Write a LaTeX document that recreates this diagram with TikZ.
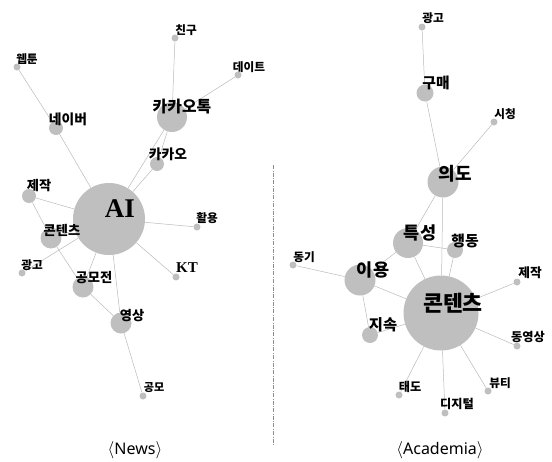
\documentclass[tikz,border=0pt]{standalone}
\usepackage{fontspec}
\newfontfamily\kr{Noto Sans CJK KR}[Scale=1.06]
\newfontfamily\tnr{Liberation Serif}
\newfontfamily\capf{Noto Sans}
\usetikzlibrary{backgrounds}
\begin{document}
\begin{tikzpicture}[x=1pt,y=-1pt,
  hub/.style={circle,fill=black!25,draw=none,inner sep=0pt,minimum size=#1},
  edge/.style={draw=black!27,line width=0.5pt},
  lbl/.style={inner sep=0pt,font=\kr\bfseries\fontsize{#1}{#1}\selectfont},
  slbl/.style={inner sep=0pt,font=\tnr\bfseries\fontsize{#1}{#1}\selectfont},
  captext/.style={inner sep=0pt,font=\capf\fontsize{16}{16}\selectfont},
  sepline/.style={draw=black!45,line width=0.5pt,dash pattern=on 4pt off 1.5pt on 0.6pt off 1.5pt}]
\useasboundingbox (0,0) rectangle (552,461);
% ---------------- News ----------------
\node[hub=72pt] (ai) at (109,219) {};
\node[hub=30pt] (kkt) at (172,117) {};
\node[hub=7pt] (chingu) at (175,38) {};
\node[hub=7pt] (date) at (238,75) {};
\node[hub=7pt] (webtoon) at (17,67) {};
\node[hub=14pt] (naver) at (56,128) {};
\node[hub=14pt] (kakao) at (157,164) {};
\node[hub=14pt] (jejak) at (29,196) {};
\node[hub=7pt] (hwal) at (197,227) {};
\node[hub=21pt] (cont) at (51,238) {};
\node[hub=7pt] (ad) at (22,273) {};
\node[hub=21pt] (gmj) at (83,287) {};
\node[hub=7pt] (kt) at (176,277) {};
\node[hub=21pt] (ys) at (121,323) {};
\node[hub=7pt] (gm) at (143,396) {};

\node[slbl=27] (aiL) at (120,209) {AI};
\node[lbl=15] (kktL) at (182,107) {카카오톡};
\node[lbl=11] (chinguL) at (186,30) {친구};
\node[lbl=11] (dateL) at (249,67) {데이트};
\node[lbl=11] (webtoonL) at (27,59) {웹툰};
\node[lbl=13] (naverL) at (68,119) {네이버};
\node[lbl=13] (kakaoL) at (168,154) {카카오};
\node[lbl=12.5] (jejakL) at (39,186) {제작};
\node[lbl=11] (hwalL) at (207,218) {활용};
\node[lbl=12.5] (contL) at (62,230) {콘텐츠};
\node[lbl=11] (adL) at (32,265) {광고};
\node[lbl=12.5] (gmjL) at (94,278) {공모전};
\node[slbl=15] (ktL) at (187,268) {KT};
\node[lbl=12.5] (ysL) at (132,316) {영상};
\node[lbl=10.5] (gmL) at (154,388) {공모};
\node[captext] (capN) at (135,450) {$\langle$News$\rangle$};

% ---------------- Academia ----------------
\node[hub=7pt] (a_ad) at (422,27) {};
\node[hub=17pt] (a_gm) at (425,93) {};
\node[hub=7pt] (a_sc) at (494,122) {};
\node[hub=31pt] (a_ud) at (443,182) {};
\node[hub=30pt] (a_ts) at (408,243) {};
\node[hub=16pt] (a_hd) at (455,250) {};
\node[hub=7pt] (a_dg) at (293,265) {};
\node[hub=31pt] (a_iy) at (360,280) {};
\node[hub=7pt] (a_jj) at (517,282) {};
\node[hub=75pt] (a_ct) at (441,313) {};
\node[hub=16pt] (a_js) at (370,335) {};
\node[hub=7pt] (a_dy) at (517,346) {};
\node[hub=7pt] (a_bt) at (488,391) {};
\node[hub=7pt] (a_td) at (399,395) {};
\node[hub=7pt] (a_dj) at (445,413) {};

\node[lbl=11] (a_adL) at (433,18) {광고};
\node[lbl=14] (a_gmL) at (436,83) {구매};
\node[lbl=11] (a_scL) at (505,114) {시청};
\node[lbl=17] (a_udL) at (455,174) {의도};
\node[lbl=16.5] (a_tsL) at (420,233) {특성};
\node[lbl=14] (a_hdL) at (465,241) {행동};
\node[lbl=11] (a_dgL) at (304,257) {동기};
\node[lbl=16.5] (a_iyL) at (373,270) {이용};
\node[lbl=12] (a_jjL) at (530,273) {제작};
\node[lbl=20.5] (a_ctL) at (453,303) {콘텐츠};
\node[lbl=14.5] (a_jsL) at (383,325) {지속};
\node[lbl=11.5] (a_dyL) at (528,337) {동영상};
\node[lbl=11] (a_btL) at (500,383) {뷰티};
\node[lbl=11.5] (a_tdL) at (410,387) {태도};
\node[lbl=11.5] (a_djL) at (457,404) {디지털};
\node[captext] (capA) at (440,450) {$\langle$Academia$\rangle$};

\coordinate (sepT) at (273,165);
\coordinate (sepB) at (273,445);

\begin{pgfonlayer}{background}
\draw[sepline] (sepT) -- (sepB);
% News edges
\draw[edge] (webtoon) -- (naver);
\draw[edge] (naver) -- (ai);
\draw[edge] (chingu) -- (kkt);
\draw[edge] (date) -- (kkt);
\draw[edge] (kkt) -- (ai);
\draw[edge] (kkt) -- (kakao);
\draw[edge] (kakao) -- (ai);
\draw[edge] (jejak) -- (ai);
\draw[edge] (jejak) -- (cont);
\draw[edge] (cont) -- (ai);
\draw[edge] (cont) -- (gmj);
\draw[edge] (ad) -- (ai);
\draw[edge] (gmj) -- (ai);
\draw[edge] (gmj) -- (ys);
\draw[edge] (ys) -- (ai);
\draw[edge] (ys) -- (gm);
\draw[edge] (ai) -- (hwal);
\draw[edge] (ai) -- (kt);
% Academia edges
\draw[edge] (a_ad) -- (a_gm);
\draw[edge] (a_gm) -- (a_ud);
\draw[edge] (a_sc) -- (a_ud);
\draw[edge] (a_ud) -- (a_ts);
\draw[edge] (a_ud) -- (a_ct);
\draw[edge] (a_ts) -- (a_iy);
\draw[edge] (a_ts) -- (a_hd);
\draw[edge] (a_ts) -- (a_ct);
\draw[edge] (a_hd) -- (a_ct);
\draw[edge] (a_dg) -- (a_iy);
\draw[edge] (a_iy) -- (a_ct);
\draw[edge] (a_iy) -- (a_js);
\draw[edge] (a_js) -- (a_ct);
\draw[edge] (a_jj) -- (a_ct);
\draw[edge] (a_dy) -- (a_ct);
\draw[edge] (a_bt) -- (a_ct);
\draw[edge] (a_dj) -- (a_ct);
\draw[edge] (a_td) -- (a_ct);
\end{pgfonlayer}
\end{tikzpicture}
\end{document}
